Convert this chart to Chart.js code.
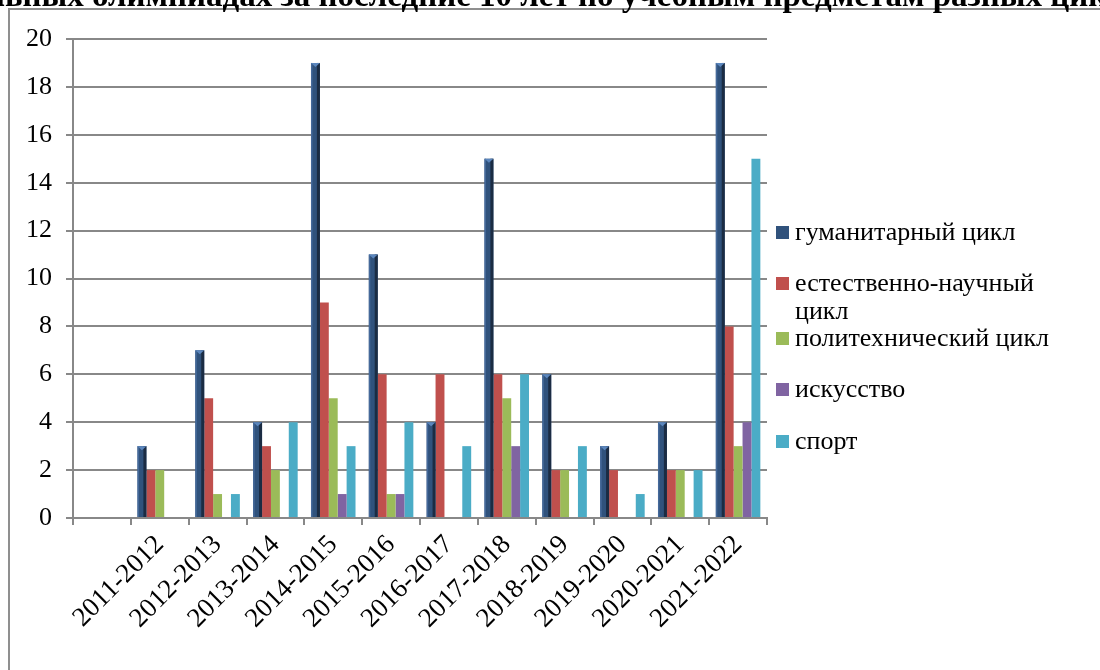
<!DOCTYPE html>
<html>
<head>
<meta charset="utf-8">
<script src="https://cdn.jsdelivr.net/npm/chart.js@4/dist/chart.umd.min.js"></script>
<style>
  html, body { margin: 0; padding: 0; background: #fff; }
  #wrap { position: relative; width: 1100px; height: 670px; overflow: hidden; }
  #legend { position: absolute; left: 775px; top: 0; font-family: "Liberation Serif", "Times New Roman", serif; font-size: 26px; color: #000; }
  .item { position: absolute; left: 0; width: 320px; line-height: 28px; }
  .item .box { position: absolute; left: 1px; top: 8px; width: 13px; height: 13px; }
  .item .txt { display: block; margin-left: 20px; width: 275px; }
</style>
</head>
<body>
<div id="wrap">
  <canvas id="chart" width="1100" height="670"></canvas>
  <div id="legend"></div>
</div>
<script>
const titleText = "Результаты участия в региональных олимпиадах за последние 10 лет по учебным предметам разных циклов"
const titlePrefix = "Результаты участия в региональных "

const years = ["", "2011-2012", "2012-2013", "2013-2014", "2014-2015", "2015-2016", "2016-2017", "2017-2018", "2018-2019", "2019-2020", "2020-2021", "2021-2022"]
const seriesNames = ["гуманитарный цикл", "естественно-научный цикл", "политехнический цикл", "искусство", "спорт"]
const humanities = [null, 3, 7, 4, 19, 11, 4, 15, 6, 3, 4, 19]
const natural = [null, 2, 5, 3, 9, 6, 6, 6, 2, 2, 2, 8]
const polytech = [null, 2, 1, 2, 5, 1, 0, 5, 2, 0, 2, 3]
const arts = [null, 0, 0, 0, 1, 1, 0, 3, 0, 0, 0, 4]
const sport = [null, 0, 1, 4, 3, 4, 3, 6, 3, 1, 2, 15]
const yTicks = [0, 2, 4, 6, 8, 10, 12, 14, 16, 18, 20]

const colors = ["#30527C", "#C0504D", "#9BBB59", "#8064A2", "#4BACC6"]
const serif = "'Liberation Serif', 'Times New Roman', serif"

// frame + cut-off title behind the chart
const backdrop = {
  id: "backdrop",
  beforeDraw(chart) {
    const ctx = chart.ctx
    ctx.save()
    ctx.strokeStyle = "#8f8f8f"
    ctx.lineWidth = 2
    ctx.beginPath()
    ctx.moveTo(9, 680)
    ctx.lineTo(9, 9)
    ctx.lineTo(1110, 9)
    ctx.stroke()
    ctx.font = "bold 33px " + serif
    ctx.fillStyle = "#000"
    ctx.textBaseline = "alphabetic"
    const x = 92 - ctx.measureText(titlePrefix).width
    ctx.fillText(titleText, x, 6)
    ctx.restore()
  }
}

// bevel look for the first series
const bevel = {
  id: "bevel",
  afterDatasetDraw(chart, args) {
    if (args.index !== 0) return
    const ctx = chart.ctx
    ctx.save()
    args.meta.data.forEach(bar => {
      const p = bar.getProps(["x", "y", "base", "width"], true)
      if (!p.width || p.base - p.y < 1) return
      const l = p.x - p.width / 2, r = p.x + p.width / 2
      ctx.fillStyle = "#1b2c43"
      ctx.fillRect(r - 3, p.y, 3, p.base - p.y)
      ctx.fillStyle = "#45699a"
      ctx.fillRect(l, p.y, 1.5, p.base - p.y)
      ctx.fillStyle = "#5b86bd"
      ctx.beginPath()
      ctx.moveTo(l, p.y)
      ctx.lineTo(r, p.y)
      ctx.lineTo(p.x, p.y + 4)
      ctx.closePath()
      ctx.fill()
    })
    ctx.restore()
  }
}

const data = [humanities, natural, polytech, arts, sport]

new Chart(document.getElementById("chart"), {
  type: "bar",
  data: {
    labels: years,
    datasets: seriesNames.map((name, i) => ({
      label: name,
      data: data[i],
      backgroundColor: colors[i],
      borderWidth: 0,
      categoryPercentage: 0.77,
      barPercentage: 1
    }))
  },
  options: {
    responsive: false,
    animation: false,
    layout: { padding: { top: 39, right: 333, left: 0, bottom: 0 } },
    plugins: {
      legend: { display: false },
      tooltip: { enabled: false }
    },
    scales: {
      x: {
        grid: { display: true, drawOnChartArea: false, drawTicks: true, tickLength: 7, color: "#888", lineWidth: 2, offset: true },
        border: { display: true, color: "#888", width: 2 },
        ticks: { autoSkip: false, maxRotation: 45, minRotation: 45, padding: 4, color: "#000", font: { family: serif, size: 27 } },
        afterFit(scale) { scale.height = 152 }
      },
      y: {
        min: 0,
        max: 20,
        afterBuildTicks(scale) { scale.ticks = yTicks.map(v => ({ value: v })) },
        grid: { color: "#888", lineWidth: 2, tickLength: 7 },
        border: { display: true, color: "#888", width: 2 },
        ticks: { padding: 14, color: "#000", font: { family: serif, size: 26 } },
        afterFit(scale) { scale.width = 73 }
      }
    }
  },
  plugins: [backdrop, bevel]
})

// legend on the right
const legend = document.getElementById("legend")
const tops = [232, 283, 338, 389, 441]
seriesNames.forEach((name, i) => {
  const item = document.createElement("div")
  item.className = "item"
  item.style.top = (tops[i] - 14) + "px"
  item.innerHTML = '<span class="box" style="background:' + colors[i] + '"></span><span class="txt">' + name + '</span>'
  legend.appendChild(item)
})
</script>
</body>
</html>
